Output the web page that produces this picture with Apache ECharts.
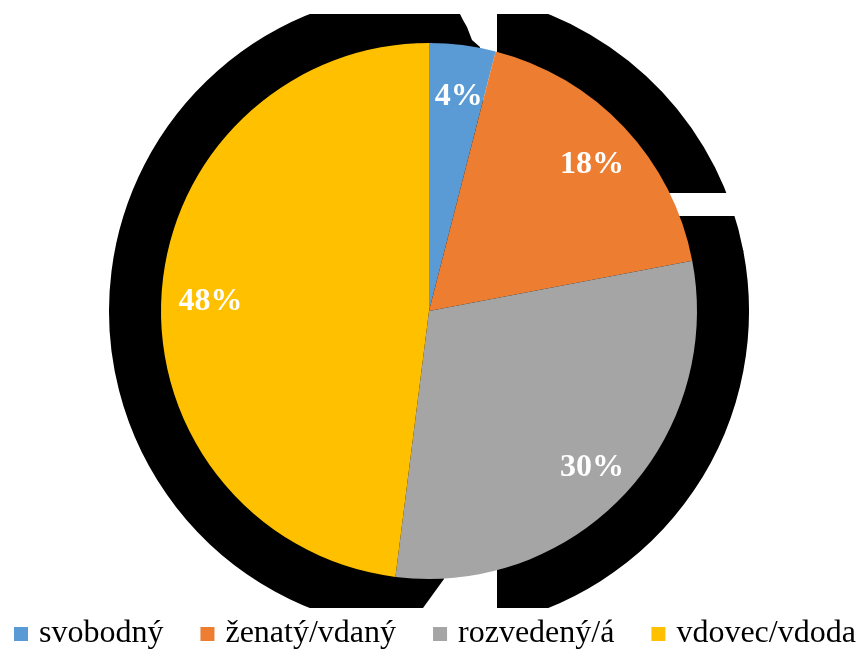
<!DOCTYPE html>
<html>
<head>
<meta charset="utf-8">
<script src="https://cdn.jsdelivr.net/npm/echarts@6/dist/echarts.min.js"></script>
<style>
html,body{margin:0;padding:0;background:#fff;}
#chart{width:859px;height:652px;}
</style>
</head>
<body>
<div id="chart"></div>
<script>
var categories = ['svobodný', 'ženatý/vdaný', 'rozvedený/á', 'vdovec/vdoda'];
var values = [4, 18, 30, 48];
var colors = ['#5B9BD5', '#ED7D31', '#A5A5A5', '#FFC000'];

var pieData = categories.map(function (c, i) { return { name: c, value: values[i] }; });
var FONT = '"Liberation Serif", "Times New Roman", serif';
var CENTER = [429, 311];

var chart = echarts.init(document.getElementById('chart'), null, { renderer: 'canvas' });
chart.setOption({
  animation: false,
  backgroundColor: '#ffffff',
  color: colors,
  legend: {
    data: categories,
    left: 14,
    top: 618,
    width: 900,
    padding: 0,
    z: 10,
    itemWidth: 14,
    itemHeight: 14,
    itemGap: 37,
    icon: 'rect',
    selectedMode: false,
    textStyle: { fontFamily: FONT, fontSize: 32, color: '#000', padding: [0, 0, 0, 6] }
  },
  graphic: [
    { type: 'rect', z: 2, silent: true, shape: { x: 0, y: 0, width: 859, height: 14 }, style: { fill: '#fff' } },
    { type: 'rect', z: 2, silent: true, shape: { x: 0, y: 608, width: 859, height: 44 }, style: { fill: '#fff' } },
    { type: 'rect', z: 2, silent: true, shape: { x: 497, y: 193, width: 362, height: 23 }, style: { fill: '#fff' } },
    { type: 'polygon', z: 2, silent: true, shape: { points: [[458, 0], [497, 0], [497, 100], [482, 100], [480, 47], [472, 40], [467, 27], [463, 20], [460, 14]] }, style: { fill: '#fff' } },
    { type: 'polygon', z: 2, silent: true, shape: { points: [[444, 540], [497, 540], [497, 652], [421, 652], [423, 608], [444, 579]] }, style: { fill: '#fff' } }
  ],
  series: [
    {
      type: 'pie',
      name: 'main',
      z: 3,
      center: CENTER,
      radius: [0, 268],
      startAngle: 90,
      clockwise: true,
      silent: true,
      label: { show: false },
      labelLine: { show: false },
      itemStyle: { borderWidth: 0 },
      emphasis: { disabled: true },
      data: pieData
    },
    {
      type: 'pie',
      name: 'shadow',
      z: 1,
      center: CENTER,
      radius: [0, 319],
      startAngle: 90,
      clockwise: true,
      silent: true,
      label: { show: false },
      labelLine: { show: false },
      itemStyle: { color: '#000', borderColor: '#000', borderWidth: 2 },
      emphasis: { disabled: true },
      data: pieData
    },
    {
      type: 'pie',
      name: 'labels',
      z: 4,
      center: CENTER,
      radius: [168, 268],
      startAngle: 90,
      clockwise: true,
      silent: true,
      itemStyle: { color: 'rgba(0,0,0,0)', borderWidth: 0 },
      label: {
        show: true,
        position: 'inside',
        formatter: '{c}%',
        color: '#ffffff',
        fontFamily: FONT,
        fontWeight: 'bold',
        fontSize: 32,
        offset: [2, 5]
      },
      labelLine: { show: false },
      emphasis: { disabled: true },
      data: pieData
    }
  ]
});
</script>
</body>
</html>
